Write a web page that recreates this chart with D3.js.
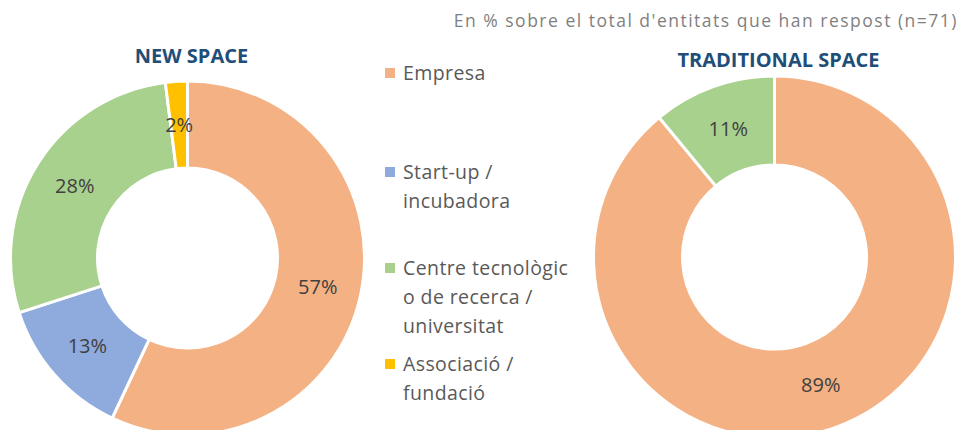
<!DOCTYPE html>
<html>
<head>
<meta charset="utf-8">
<script src="https://cdn.jsdelivr.net/npm/d3@7"></script>
<style>
  body { margin: 0; background: #fff; }
  svg text { font-family: "Open Sans", sans-serif; }
</style>
</head>
<body>
<svg width="965" height="430"></svg>
<script>
var categories = ["Empresa", "Start-up / incubadora", "Centre tecnològic o de recerca / universitat", "Associació / fundació"];
var legendLines = [["Empresa"], ["Start-up /", "incubadora"], ["Centre tecnològic", "o de recerca /", "universitat"], ["Associació /", "fundació"]];
var newSpace = [57, 13, 28, 2];
var traditionalSpace = [89, 0, 11, 0];
var colors = ["#F4B183", "#8FAADC", "#A9D18E", "#FFC000"];

var svg = d3.select("svg"),
    width = +svg.attr("width"),
    height = +svg.attr("height");

var color = d3.scaleOrdinal().domain(categories).range(colors);

svg.append("text")
    .attr("x", 958)
    .attr("y", 27)
    .attr("text-anchor", "end")
    .style("font-size", "17.5px")
    .style("letter-spacing", "1.5px")
    .style("fill", "#7f7f7f")
    .text("En % sobre el total d'entitats que han respost (n=71)");

var pie = d3.pie().sort(null).value(function(d) { return d.value; });

function donut(values, title, cx, cy, outer, inner, titleY) {
    var data = categories.map(function(c, i) { return {cat: c, value: values[i]}; });
    var arcs = pie(data).filter(function(d) { return d.value > 0; });
    var arc = d3.arc().innerRadius(inner).outerRadius(outer);
    var g = svg.append("g").attr("transform", "translate(" + cx + "," + cy + ")");

    g.selectAll(".slice")
      .data(arcs)
      .enter().append("path")
        .attr("class", "slice")
        .attr("d", arc)
        .style("fill", function(d) { return color(d.data.cat); })
        .style("stroke", "#fff")
        .style("stroke-width", 3);

    g.selectAll(".lbl")
      .data(arcs)
      .enter().append("text")
        .attr("class", "lbl")
        .attr("transform", function(d) { return "translate(" + arc.centroid(d) + ")"; })
        .attr("text-anchor", "middle")
        .attr("dy", "0.35em")
        .style("font-size", "20px")
        .style("fill", "#404040")
        .text(function(d) { return d.value + "%"; });

    svg.append("text")
        .attr("x", cx + 4)
        .attr("y", titleY)
        .attr("text-anchor", "middle")
        .style("font-size", "20px")
        .style("font-weight", "bold")
        .style("fill", "#1F4E79")
        .text(title);
}

donut(newSpace, "NEW SPACE", 187.5, 258, 177, 90, 63);
donut(traditionalSpace, "TRADITIONAL SPACE", 774.5, 257, 181, 92, 67);

// legend
var legendY = [73, 172, 268, 364];
var legend = svg.selectAll(".legend")
    .data(categories)
    .enter().append("g")
      .attr("class", "legend")
      .attr("transform", function(d, i) { return "translate(385," + legendY[i] + ")"; });

legend.append("rect")
    .attr("x", 0)
    .attr("y", -5)
    .attr("width", 10)
    .attr("height", 10)
    .style("fill", function(d) { return color(d); });

legend.append("text")
    .style("font-size", "19.5px")
    .style("letter-spacing", "0.4px")
    .style("fill", "#595959")
    .selectAll("tspan")
    .data(function(d, i) { return legendLines[i]; })
    .enter().append("tspan")
      .attr("x", 18)
      .attr("y", function(d, j) { return j * 29; })
      .attr("dy", "0.35em")
      .text(function(d) { return d; });
</script>
</body>
</html>
